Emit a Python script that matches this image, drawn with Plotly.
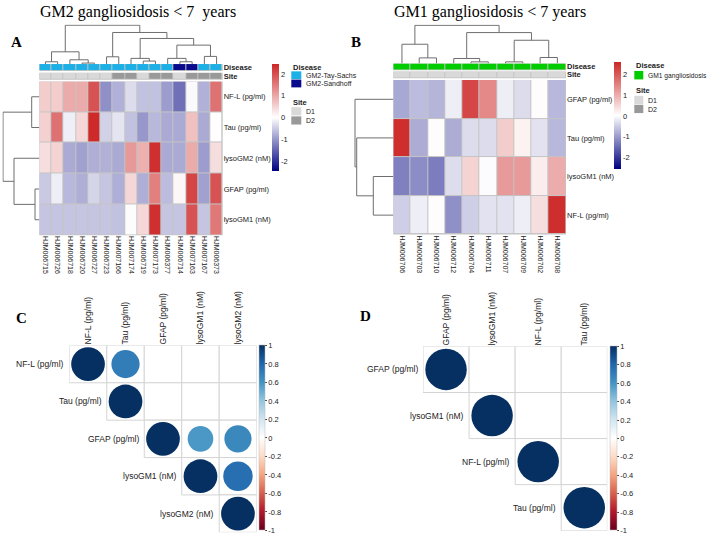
import plotly.graph_objects as go

W, H = 708, 538
def fx(p): return p / W
def fy(p): return 1 - p / H

SANS = "Liberation Sans, Arial, sans-serif"
SERIF = "Liberation Serif, Times New Roman, serif"
TXT = "#222222"

# ---------------- DATA ----------------
# Panel A: GM2 heatmap (row-scaled values)
A_cols = ["HJM006715", "HJM006726", "HJM006718", "HJM006720", "HJM006727", "HJM006723",
          "HJM007166", "HJM007174", "HJM006719", "HJM007173", "HJM006377", "HJM006714",
          "HJM007163", "HJM007167", "HJM006373"]
A_rows = ["NF-L (pg/ml)", "Tau (pg/ml)", "lysoGM2 (nM)", "GFAP (pg/ml)", "lysoGM1 (nM)"]
A_nfl = [0.58, 0.58, 0.95, 0.95, 1.95, -1.07, -0.76, -0.34, -0.60, -0.60, -0.95, -1.37, -0.05, -0.76, 1.60]
A_tau = [0.53, 1.60, -0.15, 0.45, 2.40, -0.44, -0.25, -0.60, -1.00, -0.68, -0.82, -0.82, 0.71, -0.82, 0.02]
A_lysogm2 = [0.37, 0.50, -0.82, -0.90, -0.78, -0.75, -0.82, 1.16, 0.89, 2.35, -0.82, -0.82, 0.95, -0.95, 0.37]
A_gfap = [-0.52, -0.16, -0.68, -0.78, -0.40, -0.56, -0.78, 0.45, -0.78, 1.43, -0.64, 0.10, 2.10, -0.90, 1.95]
A_lysogm1 = [-0.56, -0.56, -0.56, -0.56, -0.56, -0.56, -0.60, -0.03, 0.45, 2.35, -0.56, -0.56, 1.95, -0.56, 1.52]
A_disease = ["GM2-Tay-Sachs"] * 11 + ["GM2-Sandhoff", "GM2-Sandhoff"] + ["GM2-Tay-Sachs"] * 2
A_site = ["D1", "D1", "D1", "D1", "D1", "D1", "D2", "D2", "D1", "D2", "D2", "D1", "D2", "D2", "D2"]
A_disease_levels = ["GM2-Tay-Sachs", "GM2-Sandhoff"]
# dendrograms: (left, right, merge height)
A_col_tree = (((0, 1, 2.3), (2, (3, 4, 1.0), 4.3), 12.3),
              ((5, 6, 7.3), ((7, (8, 9, 3.0), 5.7), ((10, (11, 12, 2.3), 5.7), (13, 14, 7.7), 19.0), 25.7), 31.7),
              39.0)
A_row_tree = ((0, 1, 7.6), (2, (3, 4, 4.3), 25.3), 36.3)
A_zlim = 2.45

# Panel B: GM1 heatmap
B_cols = ["HJM006706", "HJM006703", "HJM006710", "HJM006712", "HJM006704",
          "HJM006711", "HJM006707", "HJM006709", "HJM006702", "HJM006708"]
B_rows = ["GFAP (pg/ml)", "Tau (pg/ml)", "lysoGM1 (nM)", "NF-L (pg/ml)"]
B_gfap = [-0.89, -0.68, -0.75, -0.17, 2.20, 1.43, -0.17, -0.36, 0.03, -0.72]
B_tau = [2.50, -0.85, 0.03, -0.85, -0.36, -0.36, 0.61, 0.15, -0.30, -0.72]
B_lysogm1 = [-1.30, -1.17, -1.34, -0.35, 0.53, -0.03, 1.22, 1.22, 0.22, 1.00]
B_nfl = [-0.50, -0.17, 0.03, -1.13, -0.50, -0.30, -0.30, -0.17, 0.40, 2.50]
B_disease = ["GM1 gangliosidosis"] * 10
B_site = ["D1"] * 10
B_disease_levels = ["GM1 gangliosidosis"]
B_col_tree = ((0, (1, 2, 5.6), 19.3),
              ((3, (4, 5, 1.6), 5.0), ((6, 7, 1.6), (8, 9, 6.0), 23.3), 31.0),
              38.3)
B_row_tree = (0, (1, (2, 3, 20.0), 36.6), 38.3)
B_zlim = 2.6

site_levels = ["D1", "D2"]
cat_colors = {"GM2-Tay-Sachs": "#1CB0E6", "GM2-Sandhoff": "#0A0A8C",
              "GM1 gangliosidosis": "#00CC00", "D1": "#D9D9D9", "D2": "#999999"}

# Panels C / D: significant Spearman correlations (upper triangle)
C_vars = ["NF-L (pg/ml)", "Tau (pg/ml)", "GFAP (pg/ml)", "lysoGM1 (nM)", "lysoGM2 (nM)"]
C_i = [0, 0, 1, 2, 2, 2, 3, 3, 4]
C_j = [0, 1, 1, 2, 3, 4, 3, 4, 4]
C_r = [1.0, 0.70, 1.0, 1.0, 0.58, 0.65, 1.0, 0.76, 1.0]

D_vars = ["GFAP (pg/ml)", "lysoGM1 (nM)", "NF-L (pg/ml)", "Tau (pg/ml)"]
D_i = [0, 1, 2, 3]
D_j = [0, 1, 2, 3]
D_r = [1.0, 1.0, 1.0, 1.0]

corr_ticks = [1, 0.8, 0.6, 0.4, 0.2, 0, -0.2, -0.4, -0.6, -0.8, -1]

heat_scale = [[0, "#000080"], [0.5, "#FFFFFF"], [1, "#CD2626"]]
rdbu = ["#67001F", "#B2182B", "#D6604D", "#F4A582", "#FDDBC7", "#FFFFFF",
        "#D1E5F0", "#92C5DE", "#4393C3", "#2166AC", "#053061"]
corr_scale = [[k / (len(rdbu) - 1), c] for k, c in enumerate(rdbu)]

# ---------------- LAYOUT GEOMETRY (pixels) ----------------
domains = {
    1: ((39.3, 222.7), (80.7, 235.0)),    # A heatmap
    2: ((39.3, 222.7), (63.3, 70.3)),     # A disease bar
    3: ((39.3, 222.7), (72.0, 79.0)),     # A site bar
    4: ((39.3, 222.7), (23.5, 63.3)),     # A col dendro
    5: ((2.5, 39.3), (80.7, 235.0)),      # A row dendro
    6: ((393.3, 566.0), (79.3, 234.3)),   # B heatmap
    7: ((393.3, 566.0), (62.7, 69.5)),    # B disease bar
    8: ((393.3, 566.0), (70.7, 77.5)),    # B site bar
    9: ((393.3, 566.0), (23.5, 62.7)),    # B col dendro
    10: ((354.0, 393.3), (79.3, 234.3)),  # B row dendro
    11: ((69.3, 256.7), (345.7, 533.3)),  # C corrplot
    12: ((423.0, 607.3), (346.7, 531.7)), # D corrplot
}

def xr(k): return "x" if k == 1 else f"x{k}"
def yr(k): return "y" if k == 1 else f"y{k}"
def xn(k): return "xaxis" if k == 1 else f"xaxis{k}"
def yn(k): return "yaxis" if k == 1 else f"yaxis{k}"

layout = dict(width=W, height=H, margin=dict(l=0, r=0, t=0, b=0),
              paper_bgcolor="white", plot_bgcolor="rgba(0,0,0,0)",
              showlegend=False, font=dict(family=SANS, color=TXT))
for k, ((x0, x1), (y0, y1)) in domains.items():
    base = dict(showgrid=False, zeroline=False, showline=False, ticks="",
                fixedrange=True, visible=False)
    layout[xn(k)] = dict(base, domain=[fx(x0), fx(x1)], anchor=yr(k))
    layout[yn(k)] = dict(base, domain=[fy(y1), fy(y0)], anchor=xr(k))

shapes, annotations = [], []
fig = go.Figure()


def dendro_segments(tree):
    pos, hts = [], []
    def walk(node):
        if isinstance(node, int):
            return float(node), 0.0
        left, right, h = node
        pl, hl = walk(left)
        pr, hr = walk(right)
        pos.extend([pl, pl, pr, pr, None])
        hts.extend([hl, h, h, hr, None])
        return (pl + pr) / 2, h
    walk(tree)
    return pos, hts


def discrete_scale(colors):
    n = len(colors)
    if n == 1:
        return [[0, colors[0]], [1, colors[0]]]
    sc = []
    for k, c in enumerate(colors):
        sc.append([k / n, c])
        sc.append([(k + 1) / n, c])
    return sc


def gray_under(k, color="#C4C4C4"):
    shapes.append(dict(type="rect", xref=f"{xr(k)} domain", yref=f"{yr(k)} domain",
                       x0=0, x1=1, y0=0, y1=1, fillcolor=color,
                       line=dict(width=0), layer="below"))


def heat_panel(kh, kd, ks, kc, kr, cols, rows, z, disease, site, dlevels,
               col_tree, row_tree, zlim, cb_x, cb_top, cb_len, cb_th):
    n, m = len(cols), len(rows)
    gray_under(kh)
    fig.add_trace(go.Heatmap(
        z=z, x=list(range(n)), y=list(range(m)), xaxis=xr(kh), yaxis=yr(kh),
        colorscale=heat_scale, zmin=-zlim, zmax=zlim, xgap=1, ygap=1,
        hoverinfo="skip",
        colorbar=dict(x=fx(cb_x), xanchor="left", y=fy(cb_top), yanchor="top",
                      len=cb_len, lenmode="pixels", thickness=cb_th, thicknessmode="pixels",
                      outlinewidth=0, ticks="", xpad=0, ypad=0,
                      tickvals=[-2, -1, 0, 1, 2], ticktext=["-2", "-1", "0", "1", "2"],
                      tickfont=dict(size=7.5, family=SANS, color=TXT))))
    layout[xn(kh)].update(visible=True, range=[-0.5, n - 0.5], tickvals=list(range(n)),
                          ticktext=cols, tickangle=90,
                          tickfont=dict(size=7, family=SANS, color=TXT))
    layout[yn(kh)].update(visible=True, range=[m - 0.5, -0.5], side="right",
                          tickvals=list(range(m)), ticktext=rows,
                          tickfont=dict(size=7.5, family=SANS, color=TXT))
    # annotation bars
    for kb, vals, levels, label in ((kd, disease, dlevels, "Disease"),
                                    (ks, site, site_levels, "Site")):
        gray_under(kb)
        present = [lv for lv in levels if lv in vals]
        fig.add_trace(go.Heatmap(
            z=[[present.index(v) for v in vals]], x=list(range(n)), y=[0],
            xaxis=xr(kb), yaxis=yr(kb), xgap=1, ygap=1, showscale=False,
            colorscale=discrete_scale([cat_colors[p] for p in present]),
            zmin=-0.5, zmax=len(present) - 0.5, hoverinfo="skip"))
        layout[xn(kb)].update(range=[-0.5, n - 0.5])
        layout[yn(kb)].update(visible=True, range=[-0.5, 0.5], side="right",
                              tickvals=[0], ticktext=[f"<b>{label}</b>"],
                              tickfont=dict(size=7.5, family=SANS, color=TXT))
    # column dendrogram
    p, h = dendro_segments(col_tree)
    fig.add_trace(go.Scatter(x=p, y=h, xaxis=xr(kc), yaxis=yr(kc), mode="lines",
                             line=dict(color="#6E6E6E", width=1), hoverinfo="skip"))
    top_px = domains[kc][1][1] - domains[kc][1][0]
    layout[xn(kc)].update(range=[-0.5, n - 0.5])
    layout[yn(kc)].update(range=[0, top_px])
    # row dendrogram
    p, h = dendro_segments(row_tree)
    fig.add_trace(go.Scatter(x=h, y=p, xaxis=xr(kr), yaxis=yr(kr), mode="lines",
                             line=dict(color="#6E6E6E", width=1), hoverinfo="skip"))
    wid_px = domains[kr][0][1] - domains[kr][0][0]
    layout[xn(kr)].update(range=[wid_px, 0])
    layout[yn(kr)].update(range=[m - 0.5, -0.5])


heat_panel(1, 2, 3, 4, 5, A_cols, A_rows, [A_nfl, A_tau, A_lysogm2, A_gfap, A_lysogm1],
           A_disease, A_site, A_disease_levels, A_col_tree, A_row_tree, A_zlim,
           271.7, 63.3, 106.7, 7.3)
heat_panel(6, 7, 8, 9, 10, B_cols, B_rows, [B_gfap, B_tau, B_lysogm1, B_nfl],
           B_disease, B_site, B_disease_levels, B_col_tree, B_row_tree, B_zlim,
           614.0, 61.7, 106.6, 7.0)


def legend_block(x, title_y, items, box_w, box_h, pitch, first_y, fsize=7):
    annotations.append(dict(x=fx(x), y=fy(title_y), xref="paper", yref="paper",
                            text=f"<b>{items[0]}</b>", showarrow=False, xanchor="left",
                            yanchor="middle", font=dict(size=7.5, family=SANS, color=TXT)))
    for q, lv in enumerate(items[1]):
        top = first_y + q * pitch
        shapes.append(dict(type="rect", xref="paper", yref="paper",
                           x0=fx(x), x1=fx(x + box_w), y0=fy(top + box_h), y1=fy(top),
                           fillcolor=cat_colors[lv], line=dict(width=0)))
        annotations.append(dict(x=fx(x + box_w + 2.5), y=fy(top + box_h / 2 + 0.5),
                                xref="paper", yref="paper", text=lv, showarrow=False,
                                xanchor="left", yanchor="middle",
                                font=dict(size=fsize, family=SANS, color=TXT)))


legend_block(291.3, 66.5, ("Disease", A_disease_levels), 10, 7.8, 8.3, 70.6)
legend_block(291.3, 102.0, ("Site", site_levels), 10, 8.2, 9.2, 106.6)
legend_block(634.3, 64.5, ("Disease", B_disease_levels), 9, 8.5, 9.0, 70.2, fsize=6.7)
legend_block(634.3, 90.0, ("Site", site_levels), 9, 8.3, 9.0, 95.2)


def corr_panel(k, names, ii, jj, rr, cb_x, cb_th, cb_len):
    n = len(names)
    (x0, x1), (y0, y1) = domains[k]
    cell = (x1 - x0) / n
    for i in range(n):
        for j in range(i, n):
            shapes.append(dict(type="rect", xref=xr(k), yref=yr(k),
                               x0=j - 0.5, x1=j + 0.5, y0=i - 0.5, y1=i + 0.5,
                               fillcolor="white", line=dict(color="#D4D4D4", width=1),
                               layer="below"))
    sizes = [0.9 * cell * abs(r) ** 0.5 for r in rr]
    fig.add_trace(go.Scatter(
        x=jj, y=ii, xaxis=xr(k), yaxis=yr(k), mode="markers", hoverinfo="skip",
        marker=dict(size=sizes, color=rr, colorscale=corr_scale, cmin=-1, cmax=1,
                    opacity=1, line=dict(width=0), showscale=True,
                    colorbar=dict(x=fx(cb_x), xanchor="left", y=fy(y0), yanchor="top",
                                  len=cb_len, lenmode="pixels", thickness=cb_th,
                                  thicknessmode="pixels", outlinewidth=0.5,
                                  outlinecolor="#BBBBBB", xpad=0, ypad=0,
                                  ticks="outside", ticklen=2, tickcolor="#444",
                                  tickvals=corr_ticks, ticktext=[f"{t:g}" for t in corr_ticks],
                                  tickfont=dict(size=7.5, family=SANS, color=TXT)))))
    layout[xn(k)].update(visible=True, range=[-0.5, n - 0.5], side="top",
                         tickvals=list(range(n)), ticktext=names, tickangle=-90,
                         tickfont=dict(size=8.5, family=SANS, color=TXT))
    layout[yn(k)].update(range=[n - 0.5, -0.5])
    for i, nm in enumerate(names):
        annotations.append(dict(x=i - 0.5, y=i, xref=xr(k), yref=yr(k), text=nm,
                                showarrow=False, xanchor="right", yanchor="middle",
                                xshift=-3, font=dict(size=8.5, family=SANS, color=TXT)))


corr_panel(11, C_vars, C_i, C_j, C_r, 259.3, 6.4, 185.0)
corr_panel(12, D_vars, D_i, D_j, D_r, 610.0, 7.3, 184.0)

# titles and panel letters
for txt, x, y in (("GM2 gangliosidosis < 7 \u00a0years", 138, 11),
                  ("GM1 gangliosidosis < 7 years", 490, 11)):
    annotations.append(dict(x=fx(x), y=fy(y), xref="paper", yref="paper", text=txt,
                            showarrow=False, xanchor="center", yanchor="middle",
                            font=dict(size=16, family=SERIF, color="black")))
for txt, x, y in (("A", 16, 41), ("B", 356, 41), ("C", 21, 318), ("D", 365, 316)):
    annotations.append(dict(x=fx(x), y=fy(y), xref="paper", yref="paper",
                            text=f"<b>{txt}</b>", showarrow=False, xanchor="center",
                            yanchor="middle", font=dict(size=15, family=SERIF, color="black")))

layout["shapes"] = shapes
layout["annotations"] = annotations
fig.update_layout(**layout)
fig.write_html("out.html",
               config={"displayModeBar": False, "staticPlot": True},
               post_script="document.body.style.margin='0px';"
                           "document.body.style.overflow='hidden';")
